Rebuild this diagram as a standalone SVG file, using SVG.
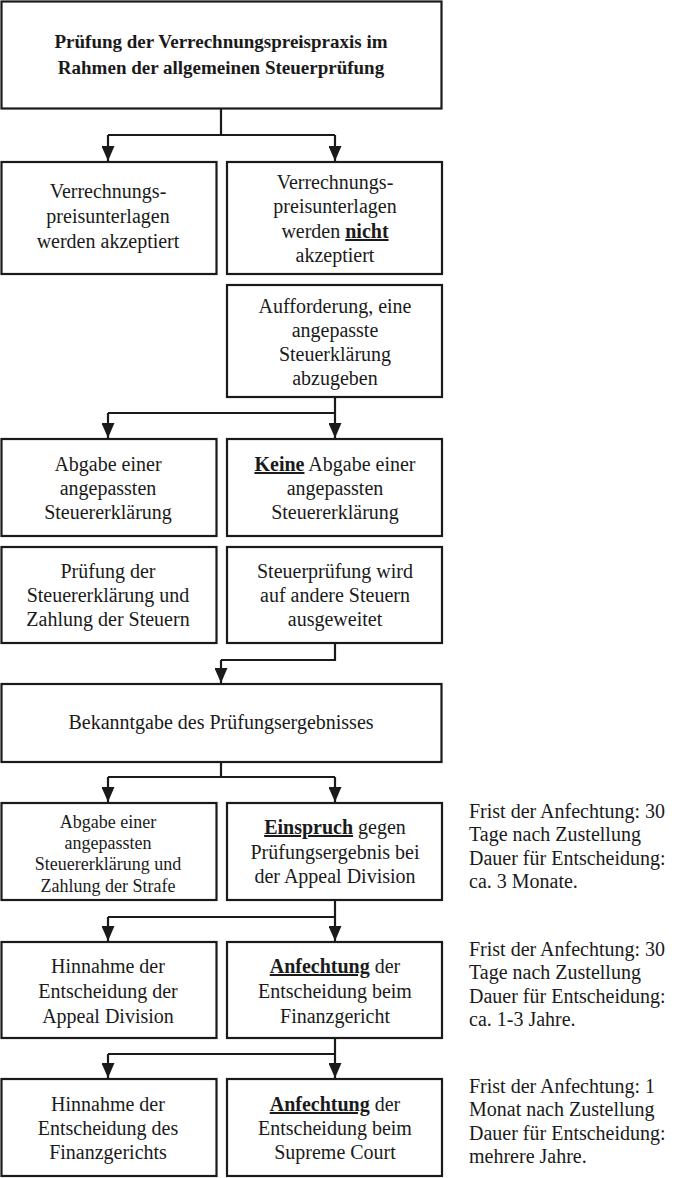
<svg xmlns="http://www.w3.org/2000/svg" width="685" height="1178" viewBox="0 0 685 1178" font-family="'Liberation Serif', 'Times New Roman', serif">
<defs>
<style>
svg text, svg tspan{font-family:'Liberation Serif','Times New Roman',serif;fill:#1a1a1a}
.nodebox{fill:#fff;stroke:#1a1a1a;stroke-width:2.2}
.lbl{font-size:20px;text-anchor:middle}
.lblsmall{font-size:18px}
.titletxt{font-weight:bold;font-size:19px}
.emph{font-weight:bold;text-decoration:underline}
.note{font-size:20px}
.conn{fill:none;stroke:#1a1a1a;stroke-width:2.2}
</style>
<marker id="ah" markerUnits="userSpaceOnUse" markerWidth="15" markerHeight="13" refX="15" refY="6.5" orient="auto">
<path d="M0,0 L15,6.5 L0,13 z" fill="#1a1a1a"/>
</marker>
</defs>
<rect width="685" height="1178" fill="#fff"/>

<g id="connectors">
<path class="conn" d="M221,109 V135 M108,135 H335"/>
<path class="conn" d="M108,135 V161" marker-end="url(#ah)"/>
<path class="conn" d="M335,135 V161" marker-end="url(#ah)"/>
<path class="conn" d="M335,397 V413 M108,413 H335"/>
<path class="conn" d="M108,413 V438" marker-end="url(#ah)"/>
<path class="conn" d="M335,413 V438" marker-end="url(#ah)"/>
<path class="conn" d="M335,643 V660 H221"/>
<path class="conn" d="M221,660 V683" marker-end="url(#ah)"/>
<path class="conn" d="M221,762 V777 M108,777 H335"/>
<path class="conn" d="M108,777 V802" marker-end="url(#ah)"/>
<path class="conn" d="M335,777 V802" marker-end="url(#ah)"/>
<path class="conn" d="M335,900 V917 M108,917 H335"/>
<path class="conn" d="M108,917 V941" marker-end="url(#ah)"/>
<path class="conn" d="M335,917 V941" marker-end="url(#ah)"/>
<path class="conn" d="M335,1038 V1054 M108,1054 H335"/>
<path class="conn" d="M108,1054 V1078" marker-end="url(#ah)"/>
<path class="conn" d="M335,1054 V1078" marker-end="url(#ah)"/>
</g>

<g id="pruefung">
<rect class="nodebox" x="1.5" y="1.5" width="440" height="107"/>
<text class="lbl titletxt" x="221" y="48">Prüfung der Verrechnungspreispraxis im</text>
<text class="lbl titletxt" x="221" y="74">Rahmen der allgemeinen Steuerprüfung</text>
</g>

<g id="akzeptiert">
<rect class="nodebox" x="1.5" y="162" width="215" height="112"/>
<text class="lbl" x="108" y="198">Verrechnungs-</text>
<text class="lbl" x="108" y="223">preisunterlagen</text>
<text class="lbl" x="108" y="248">werden akzeptiert</text>
</g>

<g id="nicht-akzeptiert">
<rect class="nodebox" x="227" y="162" width="215" height="112"/>
<text class="lbl" x="335" y="189">Verrechnungs-</text>
<text class="lbl" x="335" y="213">preisunterlagen</text>
<text class="lbl" x="335" y="238">werden <tspan class="emph">nicht</tspan></text>
<text class="lbl" x="335" y="262">akzeptiert</text>
</g>

<g id="aufforderung">
<rect class="nodebox" x="227" y="285" width="215" height="112"/>
<text class="lbl" x="335" y="313">Aufforderung, eine</text>
<text class="lbl" x="335" y="337">angepasste</text>
<text class="lbl" x="335" y="361">Steuerklärung</text>
<text class="lbl" x="335" y="385">abzugeben</text>
</g>

<g id="abgabe">
<rect class="nodebox" x="1.5" y="439" width="215" height="97"/>
<text class="lbl" x="108" y="471">Abgabe einer</text>
<text class="lbl" x="108" y="495">angepassten</text>
<text class="lbl" x="108" y="519">Steuererklärung</text>
</g>

<g id="keine-abgabe">
<rect class="nodebox" x="227" y="439" width="215" height="97"/>
<text class="lbl" x="335" y="471"><tspan class="emph">Keine</tspan> Abgabe einer</text>
<text class="lbl" x="335" y="495">angepassten</text>
<text class="lbl" x="335" y="519">Steuererklärung</text>
</g>

<g id="pruefung-zahlung">
<rect class="nodebox" x="1.5" y="547" width="215" height="96"/>
<text class="lbl" x="108" y="578">Prüfung der</text>
<text class="lbl" x="108" y="602">Steuererklärung und</text>
<text class="lbl" x="108" y="626">Zahlung der Steuern</text>
</g>

<g id="ausgeweitet">
<rect class="nodebox" x="227" y="547" width="215" height="96"/>
<text class="lbl" x="335" y="578">Steuerprüfung wird</text>
<text class="lbl" x="335" y="602">auf andere Steuern</text>
<text class="lbl" x="335" y="626">ausgeweitet</text>
</g>

<g id="bekanntgabe">
<rect class="nodebox" x="1.5" y="684" width="440" height="78"/>
<text class="lbl" x="221" y="729">Bekanntgabe des Prüfungsergebnisses</text>
</g>

<g id="strafe">
<rect class="nodebox" x="1.5" y="803" width="215" height="97"/>
<text class="lbl lblsmall" x="108" y="828">Abgabe einer</text>
<text class="lbl lblsmall" x="108" y="849">angepassten</text>
<text class="lbl lblsmall" x="108" y="870">Steuererklärung und</text>
<text class="lbl lblsmall" x="108" y="892">Zahlung der Strafe</text>
</g>

<g id="einspruch">
<rect class="nodebox" x="227" y="803" width="215" height="97"/>
<text class="lbl" x="335" y="834"><tspan class="emph">Einspruch</tspan> gegen</text>
<text class="lbl" x="335" y="859">Prüfungsergebnis bei</text>
<text class="lbl" x="335" y="883">der Appeal Division</text>
</g>

<g id="hinnahme-appeal">
<rect class="nodebox" x="1.5" y="942" width="215" height="96"/>
<text class="lbl" x="108" y="973">Hinnahme der</text>
<text class="lbl" x="108" y="998">Entscheidung der</text>
<text class="lbl" x="108" y="1023">Appeal Division</text>
</g>

<g id="anfechtung-finanzgericht">
<rect class="nodebox" x="227" y="942" width="215" height="96"/>
<text class="lbl" x="335" y="973"><tspan class="emph">Anfechtung</tspan> der</text>
<text class="lbl" x="335" y="998">Entscheidung beim</text>
<text class="lbl" x="335" y="1023">Finanzgericht</text>
</g>

<g id="hinnahme-finanzgericht">
<rect class="nodebox" x="1.5" y="1079" width="215" height="97"/>
<text class="lbl" x="108" y="1111">Hinnahme der</text>
<text class="lbl" x="108" y="1135">Entscheidung des</text>
<text class="lbl" x="108" y="1159">Finanzgerichts</text>
</g>

<g id="anfechtung-supreme">
<rect class="nodebox" x="227" y="1079" width="215" height="97"/>
<text class="lbl" x="335" y="1111"><tspan class="emph">Anfechtung</tspan> der</text>
<text class="lbl" x="335" y="1135">Entscheidung beim</text>
<text class="lbl" x="335" y="1159">Supreme Court</text>
</g>

<g id="fristen">
<text class="note" x="469" y="818">Frist der Anfechtung: 30</text>
<text class="note" x="469" y="841">Tage nach Zustellung</text>
<text class="note" x="469" y="865">Dauer für Entscheidung:</text>
<text class="note" x="469" y="888">ca. 3 Monate.</text>
<text class="note" x="469" y="956">Frist der Anfechtung: 30</text>
<text class="note" x="469" y="979">Tage nach Zustellung</text>
<text class="note" x="469" y="1003">Dauer für Entscheidung:</text>
<text class="note" x="469" y="1026">ca. 1-3 Jahre.</text>
<text class="note" x="469" y="1093">Frist der Anfechtung: 1</text>
<text class="note" x="469" y="1116">Monat nach Zustellung</text>
<text class="note" x="469" y="1140">Dauer für Entscheidung:</text>
<text class="note" x="469" y="1163">mehrere Jahre.</text>
</g>
</svg>
